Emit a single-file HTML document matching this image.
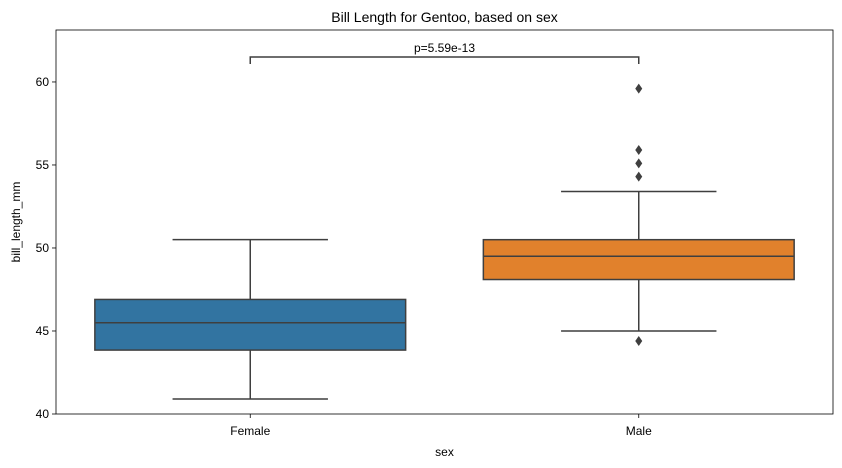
<!DOCTYPE html>
<html><head><meta charset="utf-8"><style>
html,body{margin:0;padding:0;background:#fff;}
svg{display:block;font-family:"Liberation Sans","DejaVu Sans",sans-serif;}
</style></head><body>
<svg id="chart" width="842" height="468" viewBox="0 0 842 468">
<rect x="0" y="0" width="842" height="468" fill="#fff"/>
<text x="444.5" y="22" font-size="14" text-anchor="middle">Bill Length for Gentoo, based on sex</text>
<g id="plot"></g>
<rect x="56" y="30" width="777" height="384" fill="none" stroke="#000" stroke-width="0.8"/>
<text x="444.5" y="456" font-size="12" text-anchor="middle">sex</text>
<text x="20" y="222" font-size="12" text-anchor="middle" transform="rotate(-90 20 222)">bill_length_mm</text>
</svg>
<script>
const categories=["Female","Male"];
const colors=["#3274a1","#e1812c"];
const whiskLow=[40.9,45.0];
const q1=[43.85,48.1];
const medians=[45.5,49.5];
const q3=[46.9,50.5];
const whiskHigh=[50.5,53.4];
const fliers=[[],[44.4,54.3,55.1,55.9,59.6]];
const yTicks=[40,45,50,55,60];
const pLabel="p=5.59e-13";
const pLevel=61.5;

const L=56,R=833,T=30,B=414,yMin=40,yMax=63.13;
const y=v=>B-(v-yMin)/(yMax-yMin)*(B-T);
const band=(R-L)/categories.length;
const x=i=>L+band*(i+0.5);
const ns="http://www.w3.org/2000/svg";
const g=document.getElementById('plot');
function mk(tag,attrs,parent){const e=document.createElementNS(ns,tag);for(const k in attrs)e.setAttribute(k,attrs[k]);(parent||g).appendChild(e);return e;}
const lc="#3f3f3f";
yTicks.forEach(t=>{
  const tk=mk('line',{x1:L-4,x2:L,y1:y(t),y2:y(t),stroke:'#000','stroke-width':0.8});
  
  
  const tx=mk('text',{x:L-7,y:y(t)+4,'font-size':12,'text-anchor':'end'});
  tx.textContent=t;
  
  
});
categories.forEach((c,i)=>{
  const cx=x(i),bw=band*0.8,hw=bw/4;
  const grp=mk('g',{});
  
  
  mk('line',{x1:cx,x2:cx,y1:y(whiskLow[i]),y2:y(q1[i]),stroke:lc,'stroke-width':1.5},grp);
  mk('line',{x1:cx,x2:cx,y1:y(q3[i]),y2:y(whiskHigh[i]),stroke:lc,'stroke-width':1.5},grp);
  mk('line',{x1:cx-hw,x2:cx+hw,y1:y(whiskLow[i]),y2:y(whiskLow[i]),stroke:lc,'stroke-width':1.5},grp);
  mk('line',{x1:cx-hw,x2:cx+hw,y1:y(whiskHigh[i]),y2:y(whiskHigh[i]),stroke:lc,'stroke-width':1.5},grp);
  mk('rect',{x:cx-bw/2,y:y(q3[i]),width:bw,height:y(q1[i])-y(q3[i]),fill:colors[i],stroke:lc,'stroke-width':1.5},grp);
  mk('line',{x1:cx-bw/2,x2:cx+bw/2,y1:y(medians[i]),y2:y(medians[i]),stroke:lc,'stroke-width':1.5},grp);
  fliers[i].forEach(v=>{
    const d=mk('path',{d:`M${cx} ${y(v)-5}L${cx+3.5} ${y(v)}L${cx} ${y(v)+5}L${cx-3.5} ${y(v)}Z`,fill:lc},grp);
    
    
  });
  const tk=mk('line',{x1:cx,x2:cx,y1:B,y2:B+4,stroke:'#000','stroke-width':0.8});
  
  
  const tx=mk('text',{x:cx,y:B+21,'font-size':12,'text-anchor':'middle'});
  tx.textContent=c;
  
  
});
const by=y(pLevel);
const br=mk('path',{d:`M${x(0)} ${by+7}V${by}H${x(1)}V${by+7}`,fill:'none',stroke:lc,'stroke-width':1.5});


const pt=mk('text',{x:(x(0)+x(1))/2,y:by-5,'font-size':12,'text-anchor':'middle'});
pt.textContent=pLabel;


</script>
</body></html>
